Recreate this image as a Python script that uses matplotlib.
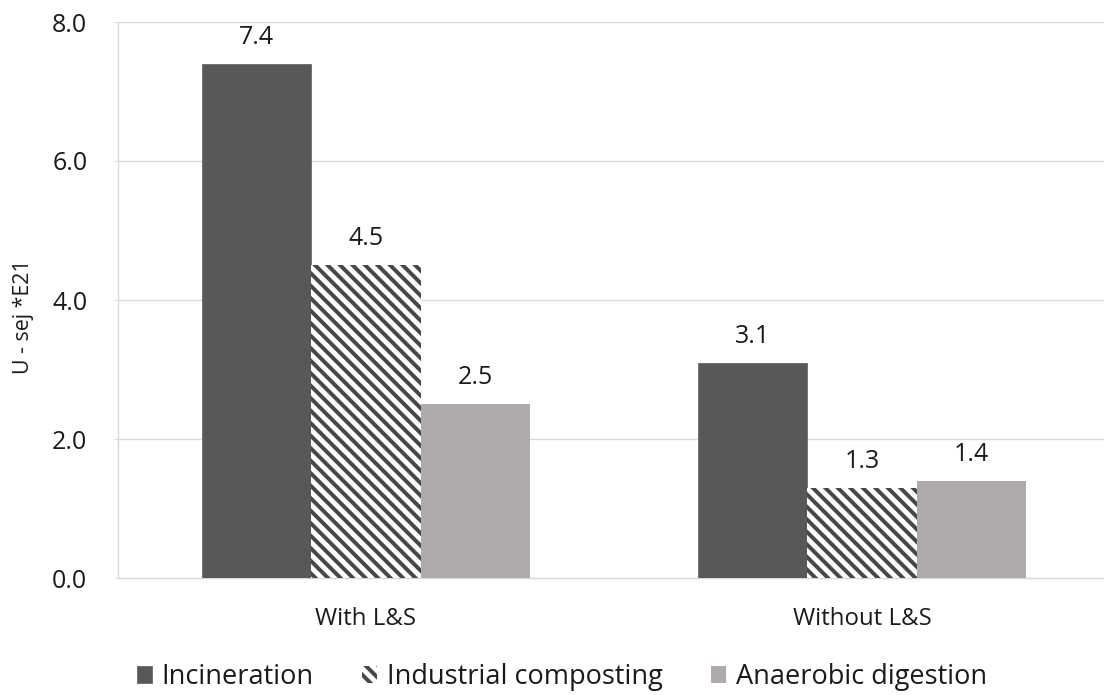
import numpy as np
import matplotlib.pyplot as plt

# emergy use per treatment option
groups = ['With L&S', 'Without L&S']
series = ['Incineration', 'Industrial composting', 'Anaerobic digestion']
incineration = [7.4, 3.1]
composting = [4.5, 1.3]
anaerobic = [2.5, 1.4]

plt.rcParams['font.family'] = ['Open Sans', 'DejaVu Sans']
plt.rcParams['hatch.linewidth'] = 3.8

DPI = 75
fig = plt.figure(figsize=(1104 / DPI, 695 / DPI), dpi=DPI)
ax = fig.add_axes([118 / 1104, 117 / 695, 1 - 118 / 1104, 556 / 695])

x = np.arange(len(groups))
w = 0.22
grid_c = '#d9d9d9'
text_c = '#1a1a1a'

b1 = ax.bar(x - w, incineration, w, color='#585858', edgecolor='#6a6a6a',
            linewidth=0.8, label=series[0], zorder=3)
b2 = ax.bar(x, composting, w, color='white', edgecolor='#474747',
            linewidth=0, hatch='\\\\', label=series[1], zorder=3)
b3 = ax.bar(x + w, anaerobic, w, color='#afabab', edgecolor='#afabab',
            linewidth=0, label=series[2], zorder=3)

for bars, vals in ((b1, incineration), (b2, composting), (b3, anaerobic)):
    for rect, v in zip(bars, vals):
        ax.annotate(f'{v:.1f}', (rect.get_x() + rect.get_width() / 2, v),
                    xytext=(0, 19), textcoords='offset points',
                    ha='center', va='baseline', fontsize=24, color=text_c)

ax.set_ylim(0, 8)
ax.set_xlim(-0.5, 1.488)
ticks = np.arange(0, 8.1, 2)
ax.set_yticks(ticks)
ax.set_yticklabels([f'{t:.1f}' for t in ticks])
ax.set_xticks(x)
ax.set_xticklabels(groups)
ax.tick_params(axis='y', labelsize=24, length=4, color=grid_c, pad=25.5,
               labelcolor=text_c)
ax.tick_params(axis='x', labelsize=23, length=0, pad=28, labelcolor=text_c)
ax.yaxis.grid(True, color=grid_c, linewidth=1.3, zorder=0)
ax.set_axisbelow(True)

for side in ('top', 'right'):
    ax.spines[side].set_visible(False)
for side in ('left', 'bottom'):
    ax.spines[side].set_color(grid_c)
    ax.spines[side].set_linewidth(1.3)

ax.set_ylabel('U - sej *E21', fontsize=20.5, color=text_c)
ax.yaxis.set_label_coords(-0.085, 0.47)

fig.legend(handles=[b1, b2, b3], labels=series, loc='center',
           bbox_to_anchor=(562 / 1104, 1 - 677 / 695), ncol=3, frameon=False,
           fontsize=26, handlelength=0.55, handleheight=0.6,
           handletextpad=0.35, columnspacing=1.8, labelcolor=text_c)

fig.savefig('out.png', dpi=DPI)
